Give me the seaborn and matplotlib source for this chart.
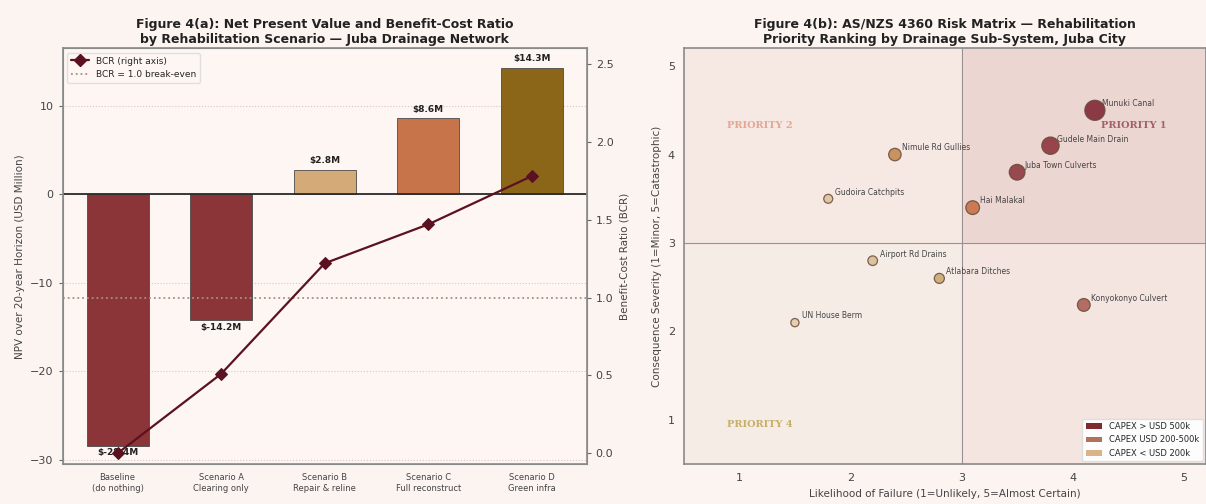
import numpy as np
import pandas as pd
import seaborn as sns
import matplotlib
matplotlib.use("Agg")
from matplotlib import pyplot as plt
from matplotlib.lines import Line2D
from matplotlib.patches import Patch

# ---------------------------------------------------------------------------
# Data: Figure 4(a)
# ---------------------------------------------------------------------------
scenarios = ["Baseline\n(do nothing)", "Scenario A\nClearing only",
             "Scenario B\nRepair & reline", "Scenario C\nFull reconstruct",
             "Scenario D\nGreen infra"]
npv = [-28.4, -14.2, 2.8, 8.6, 14.3]
bcr = [0.0, 0.51, 1.22, 1.47, 1.78]
bar_colors = ["#8b3538", "#8b3538", "#d4aa78", "#c8744a", "#8b6618"]

# ---------------------------------------------------------------------------
# Data: Figure 4(b)
# ---------------------------------------------------------------------------
systems = ["Munuki Canal", "Gudele Main Drain", "Juba Town Culverts",
           "Hai Malakal", "Nimule Rd Gullies", "Gudoira Catchpits",
           "Airport Rd Drains", "Atlabara Ditches", "UN House Berm",
           "Konyokonyo Culvert"]
likelihood = [4.2, 3.8, 3.5, 3.1, 2.4, 1.8, 2.2, 2.8, 1.5, 4.1]
severity = [4.5, 4.1, 3.8, 3.4, 4.0, 3.5, 2.8, 2.6, 2.1, 2.3]
capex = [900, 650, 520, 380, 300, 120, 150, 170, 90, 320]   # USD k
point_colors = ["#7a1f2c", "#8a2a35", "#8a2f38", "#c66a3e", "#c08448",
                "#dcc29a", "#d6bb90", "#c9a66a", "#e2cba8", "#a8584e"]

capex_labels = ["CAPEX > USD 500k", "CAPEX USD 200-500k", "CAPEX < USD 200k"]
capex_colors = ["#7f2a2e", "#b0735a", "#d8b488"]

priority_text = ["PRIORITY 1", "PRIORITY 2", "PRIORITY 4"]
priority_colors = ["#8a3a48", "#e0907a", "#b89a40"]

bg = "#fcf4f1"
sns.set_style("white")
plt.rcParams["font.family"] = ["DejaVu Sans"]
plt.rcParams["axes.edgecolor"] = "#8a8a8a"
plt.rcParams["xtick.color"] = "#666666"
plt.rcParams["ytick.color"] = "#666666"
plt.rcParams["xtick.labelcolor"] = "#444444"
plt.rcParams["ytick.labelcolor"] = "#444444"

fig = plt.figure(figsize=(12.06, 5.04), dpi=100, facecolor=bg)
ax = fig.add_axes([0.052, 0.079, 0.4345, 0.825])
axr = fig.add_axes([0.567, 0.079, 0.433, 0.825])

#==========================================================================
# Figure 4(a)
#==========================================================================
ax.set_facecolor("#fdf6f3")
df = pd.DataFrame({"scenario": scenarios, "npv": npv, "bcr": bcr})
df["pos"] = np.arange(len(df))
sns.barplot(data=df, x="scenario", y="npv", hue="scenario", palette=bar_colors,
            width=0.6, legend=False, ax=ax, edgecolor="#4a4a4a", linewidth=0.6,
            saturation=1, zorder=2)
ax.axhline(0, color="#2a2a2a", lw=1.3, zorder=3)
ax.yaxis.grid(True, ls=":", lw=0.8, color="#d8c8c4", zorder=0)
for i, v in enumerate(npv):
    off = 0.5 if v > 0 else -0.3
    ax.text(i, v + off, f"${v:.1f}M", ha="center", va="bottom" if v > 0 else "top",
            fontsize=6.5, fontweight="bold", color="#222222", zorder=6)
ax.set_xlabel("")
ax.set_ylabel("NPV over 20-year Horizon (USD Million)", fontsize=7.5, color="#444444")
ax.tick_params(axis="x", labelsize=6, length=3)
ax.tick_params(axis="y", labelsize=8, length=3)
ax.set_yticks([-30, -20, -10, 0, 10])
ax.set_xlim(-0.53, 4.53)
ax.set_ylim(-30.5, 16.5)
ax.set_title("Figure 4(a): Net Present Value and Benefit-Cost Ratio\n"
             "by Rehabilitation Scenario \u2014 Juba Drainage Network",
             fontsize=9, fontweight="bold", color="#222222", pad=4)

ax2 = ax.twinx()
sns.lineplot(data=df, x="pos", y="bcr", ax=ax2, color="#5a1220", lw=1.6,
             marker="D", markersize=6, markeredgecolor="#5a1220", sort=False, zorder=5)
ax2.axhline(1.0, color="#a89080", ls=":", lw=1.3)
ax2.set_ylim(-0.07, 2.6)
ax2.set_yticks([0.0, 0.5, 1.0, 1.5, 2.0, 2.5])
ax2.set_ylabel("Benefit-Cost Ratio (BCR)", fontsize=7.5, color="#444444")
ax2.tick_params(axis="y", labelsize=8, length=3)
ax2.set_xlim(-0.53, 4.53)
for s in ax2.spines.values():
    s.set_linewidth(1.2)

handles = [Line2D([], [], color="#5a1220", lw=1.6, marker="D", markersize=6),
           Line2D([], [], color="#a89080", ls=":", lw=1.3)]
ax.legend(handles, ["BCR (right axis)", "BCR = 1.0 break-even"], loc="upper left",
          fontsize=6.5, frameon=True, facecolor="#fdf6f3", edgecolor="#dddddd",
          framealpha=0.9)

#==========================================================================
# Figure 4(b)
#==========================================================================
axr.set_facecolor("#f6ece6")
axr.fill_between([3, 5.2], 3, 5.2, color="#ecd6d2", zorder=0)
axr.fill_between([0.5, 3], 3, 5.2, color="#f6e8e3", zorder=0)
axr.fill_between([3, 5.2], 0.5, 3, color="#f4e5e0", zorder=0)
axr.fill_between([0.5, 3], 0.5, 3, color="#f5ece5", zorder=0)
axr.axhline(3, color="#9a9090", lw=0.8, zorder=1)
axr.axvline(3, color="#9a9090", lw=0.8, zorder=1)

rdf = pd.DataFrame({"system": systems, "likelihood": likelihood,
                    "severity": severity, "capex": capex})
sns.scatterplot(data=rdf, x="likelihood", y="severity", size="capex",
                sizes=(35, 210), hue="system", palette=point_colors, legend=False,
                ax=axr, alpha=0.85, edgecolor="#6a4a3a", linewidth=0.9, zorder=4)
for name, x, y in zip(systems, likelihood, severity):
    axr.annotate(name, (x, y), xytext=(5, 3), textcoords="offset points",
                 fontsize=5.5, color="#444444", zorder=5)

for txt, col, (tx, ty) in zip(priority_text, priority_colors,
                              [(4.55, 4.33), (1.18, 4.33), (1.18, 0.95)]):
    axr.text(tx, ty, txt, fontsize=7, fontweight="bold", color=col, alpha=0.75,
             ha="center", va="center", family="DejaVu Serif")

axr.set_xlim(0.5, 5.2)
axr.set_ylim(0.5, 5.2)
axr.set_xticks([1, 2, 3, 4, 5])
axr.set_yticks([1, 2, 3, 4, 5])
axr.tick_params(labelsize=8, length=3)
axr.set_xlabel("Likelihood of Failure (1=Unlikely, 5=Almost Certain)",
               fontsize=7.5, color="#444444")
axr.set_ylabel("Consequence Severity (1=Minor, 5=Catastrophic)",
               fontsize=7.5, color="#444444")
axr.set_title("Figure 4(b): AS/NZS 4360 Risk Matrix \u2014 Rehabilitation\n"
              "Priority Ranking by Drainage Sub-System, Juba City",
              fontsize=9, fontweight="bold", color="#222222", pad=4)
for s in axr.spines.values():
    s.set_linewidth(1.2)

patches = [Patch(facecolor=c, edgecolor="none") for c in capex_colors]
axr.legend(patches, capex_labels, loc="lower right", fontsize=6,
           frameon=True, facecolor="white", edgecolor="#dddddd",
           framealpha=0.95, borderaxespad=0.4)

fig.savefig("out.png", dpi=100, facecolor=bg)
